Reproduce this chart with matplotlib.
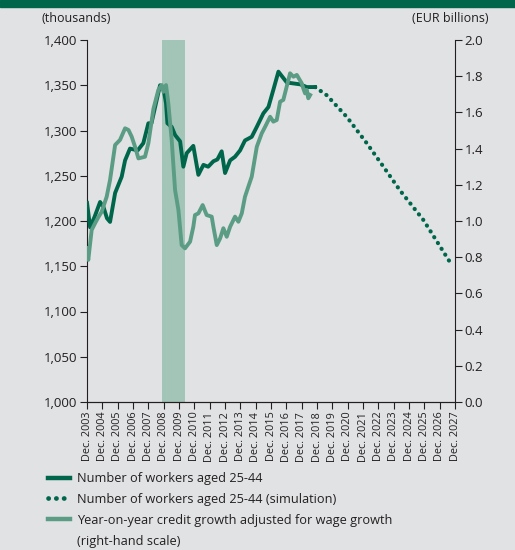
import matplotlib.pyplot as plt
from matplotlib.lines import Line2D
from matplotlib.patches import Rectangle

# Number of workers aged 25-44 (thousands), x in decimal years
workers_x = [2003.92, 2004.12, 2004.42, 2004.77, 2005.0, 2005.22, 2005.42, 2005.75,
             2006.18, 2006.4, 2006.72, 2007.22, 2007.59, 2007.92, 2008.12, 2008.68,
             2008.9, 2009.07, 2009.16, 2009.44, 2009.66, 2009.99, 2010.2, 2010.42,
             2010.85, 2011.18, 2011.51, 2011.82, 2012.16, 2012.42, 2012.7, 2012.92,
             2013.25, 2013.57, 2013.9, 2014.22, 2014.66, 2014.99, 2015.42, 2015.75,
             2016.07, 2016.4, 2016.95, 2017.82, 2018.25, 2018.79]
workers_y = [1220, 1193, 1205, 1221, 1215, 1203, 1199, 1231,
             1249, 1267, 1280, 1278, 1286, 1308, 1308, 1350,
             1347, 1330, 1308, 1304, 1295, 1288, 1260, 1275,
             1283, 1251, 1262, 1260, 1266, 1268, 1277, 1253,
             1267, 1271, 1278, 1289, 1293, 1304, 1319, 1326,
             1345, 1365, 1353, 1351, 1348, 1348]

# Simulation
sim_x = [2018.79, 2019.55, 2020.86, 2022.16, 2023.25, 2024.32, 2025.86, 2027.72]
sim_y = [1348, 1339, 1315, 1286, 1260, 1234, 1201, 1151]

# Year-on-year credit growth adjusted for wage growth (EUR billions)
credit_x = [2003.92, 2004.0, 2004.22, 2004.44, 2004.65, 2004.87, 2005.2, 2005.42,
            2005.75, 2006.07, 2006.4, 2006.62, 2006.83, 2007.05, 2007.27, 2007.7,
            2007.92, 2008.25, 2008.57, 2008.79, 2008.9, 2009.07, 2009.22, 2009.44,
            2009.66, 2009.88, 2010.09, 2010.31, 2010.64, 2010.85, 2010.96, 2011.18,
            2011.46, 2011.72, 2012.05, 2012.16, 2012.38, 2012.6, 2012.81, 2013.03,
            2013.25, 2013.57, 2013.79, 2014.01, 2014.22, 2014.44, 2014.66, 2014.99,
            2015.31, 2015.53, 2015.86, 2016.07, 2016.29, 2016.51, 2016.72, 2017.16,
            2017.38, 2017.6, 2017.92, 2018.02, 2018.14, 2018.25, 2018.35, 2018.47]
credit_y = [0.85, 0.785, 0.95, 0.987, 1.02, 1.05, 1.134, 1.227,
            1.42, 1.448, 1.512, 1.503, 1.466, 1.41, 1.346, 1.355,
            1.43, 1.62, 1.724, 1.751, 1.714, 1.751, 1.65, 1.448,
            1.171, 1.06, 0.867, 0.849, 0.886, 0.968, 1.033, 1.042,
            1.088, 1.033, 1.024, 0.968, 0.867, 0.904, 0.96, 0.913,
            0.968, 1.024, 0.996, 1.042, 1.134, 1.19, 1.245, 1.41,
            1.484, 1.52, 1.576, 1.549, 1.558, 1.659, 1.669, 1.816,
            1.797, 1.807, 1.761, 1.733, 1.705, 1.724, 1.678, 1.696]

crisis = (2008.8, 2010.33)
tick_years = list(range(2003, 2028))

dark = '#00664b'
light = '#5b9c85'
band = '#a2c5b7'
bg = '#e1e2e4'
txt = '#231f20'
dots = (0, (0.05, 1.6))

plt.rcParams['font.family'] = ['Open Sans', 'DejaVu Sans']
plt.rcParams['text.color'] = txt
plt.rcParams['xtick.color'] = txt
plt.rcParams['ytick.color'] = txt

fig = plt.figure(figsize=(5.15, 5.5), dpi=100, facecolor=bg)
fig.patches.append(Rectangle((0, 1 - 7 / 550), 1, 7 / 550, transform=fig.transFigure,
                             color=dark, zorder=0))

ax = fig.add_axes([87 / 515, 1 - 402 / 550, 368 / 515, 362 / 550])
ax.set_facecolor(bg)
ax2 = ax.twinx()
ax2.patch.set_visible(False)

ax.axvspan(crisis[0], crisis[1], color=band, lw=0, zorder=0)
ax.plot(workers_x, workers_y, color=dark, lw=2.8, zorder=3, solid_joinstyle='round')
ax.plot(sim_x, sim_y, color=dark, lw=3, linestyle=dots, dash_capstyle='round', zorder=3)
ax2.plot(credit_x, credit_y, color=light, lw=2.8, zorder=2, solid_joinstyle='round')

ax.set_xlim(2003 + 11 / 12, 2027 + 11 / 12)
ax.set_ylim(1000, 1400)
ax2.set_ylim(0, 2.0)

ax.set_xticks([y + 11 / 12 for y in tick_years])
ax.set_xticklabels([f'Dec. {y}' for y in tick_years], rotation=90, fontsize=7.8)
ax.set_yticks(range(1000, 1401, 50))
ax.set_yticklabels([f'{v:,}' for v in range(1000, 1401, 50)], fontsize=9.5)
ax2.set_yticks([i / 5 for i in range(11)])
ax2.set_yticklabels([f'{i / 5:.1f}' for i in range(11)], fontsize=9.5)

for a in (ax, ax2):
    a.spines['top'].set_visible(False)
    for s in a.spines.values():
        s.set_color(txt)
        s.set_linewidth(0.8)
    a.tick_params(length=5, width=0.8, pad=2)
ax.spines['right'].set_visible(False)
ax2.spines['left'].set_visible(False)

fig.text(76 / 515, 1 - 18 / 550, '(thousands)', ha='center', va='center', fontsize=9)
fig.text(488 / 515, 1 - 18 / 550, '(EUR billions)', ha='right', va='center', fontsize=9)

handles = [Line2D([], [], color=dark, lw=3.2),
           Line2D([], [], color=dark, lw=3.4, linestyle=dots, dash_capstyle='round'),
           Line2D([], [], color=light, lw=3.2),
           Line2D([], [], color='none', lw=0)]
labels = ['Number of workers aged 25-44',
          'Number of workers aged 25-44 (simulation)',
          'Year-on-year credit growth adjusted for wage growth',
          '(right-hand scale)']
fig.legend(handles, labels, loc='upper left', bbox_to_anchor=(48 / 515, 1 - 472 / 550),
           frameon=False, fontsize=9.2, handlelength=1.75, handletextpad=0.55,
           labelspacing=0.62, borderpad=0, borderaxespad=0)

fig.savefig('out.png', dpi=100, facecolor=bg)
